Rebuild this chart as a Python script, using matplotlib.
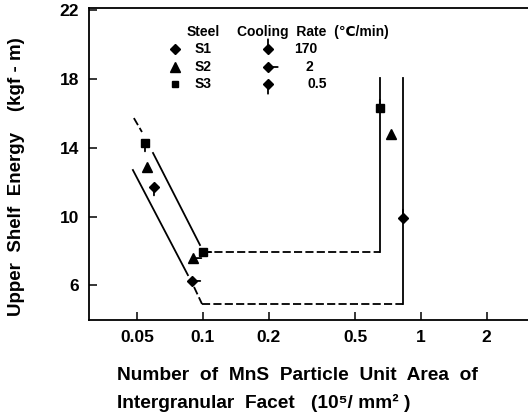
import numpy as np
import matplotlib
matplotlib.use("Agg")
import matplotlib.pyplot as plt

plt.rcParams['font.family'] = ['Liberation Sans', 'DejaVu Sans']
plt.rcParams['font.weight'] = 'bold'

# measured points (x: MnS particles, y: upper shelf energy)
s1_x = [0.0596, 0.089, 0.827]
s1_y = [11.72, 6.26, 9.92]
s2_x = [0.0553, 0.090, 0.728]
s2_y = [12.88, 7.59, 14.80]
s3_x = [0.0542, 0.100, 0.648]
s3_y = [14.28, 7.94, 16.31]
# cooling rate flag per point (0.5, 2, 170 degC/min); None = no flag visible
s1_rates = ['0.5', '2', '170']
s2_rates = [None, '2', None]
s3_rates = ['0.5', '2', '170']

# upper boundary line (S3 side)
up_dash_x = [0.0482, 0.0525]
up_dash_y = [15.73, 14.92]
up_solid_x = [0.059, 0.0969]
up_solid_y = [13.70, 8.35]
up_flat_x = [0.100, 0.648]
up_flat_y = [7.94, 7.94]
up_vert_x = [0.648, 0.648]
up_vert_y = [7.94, 18.05]

# lower boundary line (S1 side)
lo_solid_x = [0.0477, 0.0853]
lo_solid_y = [12.71, 6.60]
lo_dash_x = [0.091, 0.099]
lo_dash_y = [5.91, 4.92]
lo_flat_x = [0.099, 0.827]
lo_flat_y = [4.92, 4.92]
lo_vert_x = [0.827, 0.827]
lo_vert_y = [4.92, 18.05]

xticks = [0.05, 0.1, 0.2, 0.5, 1, 2]
xticklabels = ['0.05', '0.1', '0.2', '0.5', '1', '2']
yticks = [6, 10, 14, 18, 22]

W, H = 528, 417
fig = plt.figure(figsize=(W / 100, H / 100), dpi=100)
ax = fig.add_axes([89 / W, 1 - 320 / H, (W - 89) / W, 312 / H])

dash = (0, (4.5, 1.8))
lw = 1.3
ax.plot(up_dash_x, up_dash_y, color='k', lw=lw, ls=dash)
ax.plot(up_solid_x, up_solid_y, color='k', lw=lw)
ax.plot(up_flat_x, up_flat_y, color='k', lw=lw, ls=dash)
ax.plot(up_vert_x, up_vert_y, color='k', lw=lw)
ax.plot(lo_solid_x, lo_solid_y, color='k', lw=lw)
ax.plot(lo_dash_x, lo_dash_y, color='k', lw=lw, ls=dash)
ax.plot(lo_flat_x, lo_flat_y, color='k', lw=lw, ls=dash)
ax.plot(lo_vert_x, lo_vert_y, color='k', lw=lw)

stem_dir = {'170': (0, 1), '2': (1, 0), '0.5': (0, -1)}


def stem(x, y, rate, coords='data', L=6):
    dx, dy = stem_dir[rate]
    ax.annotate('', xy=(x, y), xycoords=coords, xytext=(dx * L, dy * L),
                textcoords='offset points',
                arrowprops=dict(arrowstyle='-', lw=1.3, color='k',
                                shrinkA=0, shrinkB=0))


for xs, ys, rs, m, ms in [(s1_x, s1_y, s1_rates, 'D', 5.5),
                          (s2_x, s2_y, s2_rates, '^', 6.5),
                          (s3_x, s3_y, s3_rates, 's', 5.5)]:
    ax.plot(xs, ys, ls='none', marker=m, ms=ms, color='k', zorder=3)
    for x, y, r in zip(xs, ys, rs):
        if r is not None:
            stem(x, y, r)

ax.set_xscale('log')
ax.set_xlim(0.030, 3.10)
ax.set_ylim(3.99, 22.13)
ax.xaxis.set_minor_locator(matplotlib.ticker.NullLocator())
ax.set_xticks(xticks)
ax.set_xticklabels(xticklabels)
ax.set_yticks(yticks)
ax.tick_params(direction='in', length=6, width=1.1, labelsize=12.5, pad=7)
for lab in ax.get_xticklabels() + ax.get_yticklabels():
    lab.set_fontweight('bold')
for sp in ['left', 'bottom', 'top']:
    ax.spines[sp].set_linewidth(1.3)
ax.spines['right'].set_visible(False)

# legend drawn by hand
def fx(px):
    return px / W


def fy(py):
    return 1 - py / H


lf = 10
fig.text(fx(203), fy(32), 'Steel', ha='center', va='center', fontsize=lf, fontweight='bold')
fig.text(fx(237), fy(32), 'Cooling  Rate  (\u2103/min)', ha='left', va='center', fontsize=lf, fontweight='bold')
steel_names = ['S1', 'S2', 'S3']
steel_marks = [('D', 5.5), ('^', 6.5), ('s', 5)]
rate_labels = ['170', '2', '0.5']
rate_lx = [294, 305, 307]
rows = [49, 67, 84]
for name, (m, ms), rl, rx, py in zip(steel_names, steel_marks, rate_labels, rate_lx, rows):
    ax.plot([fx(175)], [fy(py)], marker=m, ms=ms, color='k', transform=fig.transFigure, clip_on=False)
    fig.text(fx(195), fy(py), name, ha='left', va='center', fontsize=lf, fontweight='bold')
    ax.plot([fx(268)], [fy(py)], marker='D', ms=5.5, color='k', transform=fig.transFigure, clip_on=False)
    stem(fx(268), fy(py), rl, coords='figure fraction', L=7)
    fig.text(fx(rx), fy(py), rl, ha='left', va='center', fontsize=lf, fontweight='bold')

fig.text(fx(17), fy(177), 'Upper  Shelf  Energy    (kgf - m)', rotation=90,
         ha='center', va='center', fontsize=13.5, fontweight='bold')
fig.text(fx(117), fy(375), 'Number  of  MnS  Particle  Unit  Area  of',
         ha='left', va='center', fontsize=13.8, fontweight='bold')
fig.text(fx(117), fy(403), 'Intergranular  Facet   (10\u2075/ mm\u00b2 )',
         ha='left', va='center', fontsize=13.8, fontweight='bold')

fig.savefig('out.png', dpi=100)
